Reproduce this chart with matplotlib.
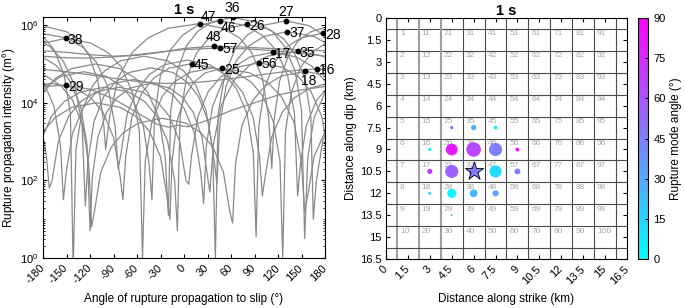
import matplotlib.pyplot as plt
from matplotlib.ticker import FixedLocator, LogLocator, NullFormatter

plt.rcParams['font.family'] = ['Liberation Sans', 'DejaVu Sans']
plt.rcParams['mathtext.fontset'] = 'custom'
plt.rcParams['mathtext.rm'] = 'Liberation Sans'

# left panel: intensity curves, (angle deg, log10 intensity)
curve_36 = [(-180, 4.26), (-164, 4.63), (-144, 4.88), (-113, 5.0), (-82, 4.88), (-62, 4.63), (-46, 4.26),
            (-32, 3.61), (-24, 2.6), (-20, 1.1), (-17, 3.8), (-9, 4.81), (3, 5.46), (17, 5.83), (35, 6.08),
            (62, 6.2), (92, 6.08), (113, 5.83), (128, 5.46), (142, 4.81), (150, 3.8), (154, 0.5), (158, 2.6),
            (166, 3.61), (180, 4.26)]
curve_26 = [(-180, 3.15), (-169, 3.66), (-153, 4.03), (-132, 4.28), (-102, 4.4), (-71, 4.28), (-50, 4.03),
            (-35, 3.66), (-21, 3.01), (-12, 2.0), (-8.5, 0.7), (-5, 3.62), (3, 4.63), (16, 5.28), (31, 5.65),
            (51, 5.9), (80, 6.02), (108, 5.9), (127, 5.65), (141, 5.28), (154, 4.63), (162, 3.62), (165, 1.0),
            (169, 2.0), (177, 3.01), (180, 3.15)]
curve_46 = [(-180, 4.32), (-176, 4.43), (-157, 4.68), (-128, 4.8), (-99, 4.68), (-80, 4.43), (-65, 4.06),
            (-52, 3.41), (-44.5, 2.4), (-41, 1.5), (-37.5, 3.71), (-30, 4.72), (-17, 5.37), (-2, 5.74),
            (17, 5.99), (46, 6.11), (79, 5.99), (100, 5.74), (117, 5.37), (132, 4.72), (141, 3.71), (145, 1.6),
            (148.5, 2.4), (156, 3.41), (169, 4.06), (180, 4.32)]
curve_47 = [(-180, 5.94), (-174, 5.95), (-150, 5.83), (-133, 5.58), (-121, 5.21), (-110, 4.56), (-103, 3.55),
            (-100, 2.8), (-95, 3.64), (-84, 4.65), (-66, 5.3), (-46, 5.67), (-20, 5.92), (20, 6.04), (50, 5.92),
            (71, 5.67), (86, 5.3), (100, 4.65), (108, 3.64), (112, 2.3), (115, 3.55), (122, 4.56), (133, 5.21),
            (145, 5.58), (162, 5.83), (180, 5.94)]
curve_27 = [(-180, 5.71), (-166, 5.37), (-153, 4.72), (-145, 3.71), (-141.5, -0.3), (-138, 2.8), (-130, 3.81),
            (-116, 4.46), (-101, 4.83), (-81, 5.08), (-51, 5.2), (-21, 5.08), (-1, 4.83), (15, 4.46),
            (28, 3.81), (36.5, 2.8), (40, 0.0), (43.5, 3.71), (52, 4.72), (65, 5.37), (80.5, 5.74), (100, 5.99),
            (130, 6.11), (159, 5.99), (179, 5.74), (180, 5.71)]
curve_38 = [(-180, 5.52), (-178, 5.54), (-151, 5.66), (-119, 5.54), (-97, 5.29), (-80, 4.92), (-66, 4.27),
            (-57, 3.26), (-53, 0.0), (-49.5, 2.5), (-41, 3.51), (-28, 4.16), (-13, 4.53), (7, 4.78), (36.5, 4.9),
            (66, 4.78), (86, 4.53), (101, 4.16), (114, 3.51), (122.5, 2.5), (126, 0.0), (129.5, 3.26),
            (137, 4.27), (149, 4.92), (163, 5.29), (180, 5.52)]
curve_28 = [(-180, 5.78), (-150, 5.67), (-128.5, 5.42), (-112, 5.05), (-97, 4.4), (-88, 3.39), (-84, 2.3),
            (-80.5, 2.7), (-72.6, 3.71), (-59, 4.36), (-44, 4.73), (-25, 4.98), (4, 5.1), (33, 4.98), (52, 4.73),
            (67, 4.36), (80.6, 3.71), (88.5, 2.7), (92, 0.55), (95.4, 3.39), (103, 4.4), (116, 5.05),
            (130, 5.42), (149, 5.67), (177, 5.79), (180, 5.78)]
curve_35 = [(-180, 5.17), (-163, 4.96), (-146.6, 4.59), (-132.4, 3.94), (-123.8, 2.93), (-120, 0.7), (-117, 2.1),
            (-110, 3.11), (-98.6, 3.76), (-85.6, 4.13), (-68.7, 4.38), (-43.5, 4.5), (-18.3, 4.38),
            (-1.4, 4.13), (11.6, 3.76), (23, 3.11), (30, 2.1), (33, 1.7), (37.5, 2.93), (47.6, 3.94),
            (64.4, 4.59), (83.4, 4.96), (108, 5.21), (145, 5.33), (176.4, 5.21), (180, 5.17)]
curve_45 = [(-180, 4.48), (-169, 4.5), (-139, 4.38), (-119, 4.13), (-103.5, 3.76), (-90, 3.11), (-81.6, 2.1),
            (-78, 1.5), (-74.5, 2.61), (-66.6, 3.62), (-53.4, 4.27), (-38.4, 4.64), (-19, 4.89), (10, 5.01),
            (39.7, 4.89), (59.5, 4.64), (74.8, 4.27), (88.3, 3.62), (96.4, 2.61), (100, 1.6), (103.6, 2.1),
            (111.8, 3.11), (125.5, 3.76), (141, 4.13), (161, 4.38), (180, 4.48)]
curve_56 = [(-180, 3.15), (-175.7, 2.63), (-172, 1.8), (-168.4, 2.0), (-160.4, 3.01), (-147, 3.66),
            (-132, 4.03), (-112.4, 4.28), (-83, 4.4), (-53.6, 4.28), (-34, 4.03), (-19, 3.66), (-5.6, 3.01),
            (2.4, 2.0), (6, 1.9), (9.6, 2.63), (17.7, 3.64), (31, 4.29), (46.5, 4.66), (66, 4.91), (96, 5.03),
            (126, 4.91), (146.6, 4.66), (162, 4.29), (176, 3.64), (180, 3.15)]
curve_25 = [(-180, 3.26), (-164, 3.63), (-143, 3.88), (-112, 4.0), (-81, 3.88), (-60, 3.63), (-44, 3.26),
            (-30, 2.61), (-21.8, 1.6), (-18, 1.0), (-15.3, 2.49), (-9.3, 3.5), (0.8, 4.15), (12, 4.52),
            (27, 4.77), (49, 4.89), (84, 4.77), (107, 4.52), (124.6, 4.15), (140.4, 3.5), (149.8, 2.49),
            (154, 1.2), (157.8, 1.6), (166, 2.61), (180, 3.26)]
curve_17 = [(-180, 4.56), (-166, 3.91), (-157.7, 2.9), (-154, 1.5), (-150.4, 2.2), (-142.4, 3.21), (-129, 3.86),
            (-113.7, 4.23), (-94, 4.48), (-64.5, 4.6), (-35, 4.48), (-15.3, 4.23), (0, 3.86), (13.4, 3.21),
            (21.4, 2.2), (25, 1.4), (28.5, 2.9), (36.4, 3.91), (49.6, 4.56), (64.6, 4.93), (84, 5.18),
            (113, 5.3), (143.7, 5.18), (164, 4.93), (180, 4.56)]
curve_37 = [(-180, 5.55), (-172, 5.46), (-154.6, 5.09), (-139.3, 4.44), (-130.1, 3.43), (-126, 1.34),
            (-122.6, 2.5), (-115, 3.51), (-102.5, 4.16), (-88, 4.53), (-70, 4.78), (-42, 4.9), (-14.3, 4.78),
            (4.2, 4.53), (18.5, 4.16), (31, 3.51), (38.6, 2.5), (42, 1.9), (45.6, 3.43), (53.7, 4.44),
            (67, 5.09), (82.5, 5.46), (102, 5.71), (132, 5.83), (165.7, 5.71), (180, 5.55)]
curve_18 = [(-180, 4.71), (-176.3, 4.69), (-157, 4.44), (-142.4, 4.07), (-129.3, 3.42), (-121.5, 2.41),
            (-118, 0.8), (-114.4, 1.2), (-106.3, 2.21), (-92.8, 2.86), (-77.5, 3.23), (-57.7, 3.48),
            (-28, 3.6), (1.7, 3.48), (21.5, 3.23), (36.8, 2.86), (50.3, 2.21), (58.4, 1.2), (62, 0.9),
            (65.7, 2.41), (74, 3.42), (88, 4.07), (104, 4.44), (124.3, 4.69), (155, 4.81), (180, 4.71)]
curve_16 = [(-180, 4.86), (-150, 4.8), (-120, 4.72), (-90, 4.63), (-60, 4.55), (-30, 4.5), (0, 4.5),
            (30, 4.55), (60, 4.62), (90, 4.7), (120, 4.78), (150, 4.85), (170, 4.87), (180, 4.86)]
curve_57 = [(-180, 5.2), (-150, 5.16), (-120, 5.15), (-90, 5.18), (-60, 5.24), (-30, 5.31), (0, 5.37),
            (46, 5.41), (80, 5.39), (110, 5.35), (140, 5.29), (180, 5.2)]
curve_48 = [(-180, 5.34), (-150, 5.3), (-120, 5.24), (-90, 5.2), (-60, 5.22), (-30, 5.3), (0, 5.4),
            (38, 5.46), (70, 5.44), (100, 5.41), (140, 5.37), (180, 5.34)]
curve_29 = [(-180, 4.42), (-151, 4.45), (-120, 4.35), (-90, 4.1), (-60, 3.75), (-35, 3.45), (-20, 3.37),
            (-8, 3.42), (5, 3.38), (30, 3.55), (60, 3.8), (90, 4.0), (120, 4.2), (150, 4.33), (180, 4.42)]

curves = [curve_36, curve_26, curve_46, curve_47, curve_27, curve_38, curve_28, curve_35, curve_45,
          curve_56, curve_25, curve_17, curve_37, curve_18, curve_16, curve_57, curve_48, curve_29]

# subfaults with a maximum marked: cell number, angle of max, log10 max intensity, rupture mode angle
cells = [16, 17, 18, 25, 26, 27, 28, 29, 35, 36, 37, 38, 45, 46, 47, 48, 56, 57]
peak_angle = [170, 113, 155, 49, 80, 130, 177, -151, 145, 62, 132, -151, 10, 46, 20, 38, 96, 46]
peak_log = [4.87, 5.30, 4.81, 4.89, 6.02, 6.11, 5.79, 4.45, 5.33, 6.20, 5.83, 5.66, 5.01, 6.11, 6.04,
            5.46, 5.03, 5.41]
mode_angle = [5, 68, 20, 53, 80, 55, 4, 25, 28, 65, 46, 25, 8, 45, 13, 32, 88, 45]
hypo_cell = 37

x_ticks = [-180, -150, -120, -90, -60, -30, 0, 30, 60, 90, 120, 150, 180]
km_ticks = [0, 1.5, 3, 4.5, 6, 7.5, 9, 10.5, 12, 13.5, 15, 16.5]
cbar_ticks = [0, 15, 30, 45, 60, 75, 90]

# label placement for the peak numbers (offset in points, ha, va)
label_pos = {47: (1, 5, 'left', 'center'), 36: (0, 1.5, 'center', 'bottom'),
             46: (0.5, -5, 'left', 'center'), 27: (0.5, 1.5, 'center', 'bottom'),
             48: (0, 1.5, 'center', 'bottom'), 18: (2, -2, 'center', 'top')}

fig = plt.figure(figsize=(6.85, 3.08), dpi=100)

# ---- left panel
ax1 = fig.add_axes([0.0628, 0.1623, 0.4117, 0.7825])
for pts in curves:
    ax1.plot([p[0] for p in pts], [10 ** p[1] for p in pts], color='#8a8a8a', lw=0.9, zorder=1)
ax1.plot(peak_angle, [10 ** v for v in peak_log], 'o', color='k', ms=3.2, zorder=3)
for c, a, v in zip(cells, peak_angle, peak_log):
    dx, dy, ha, va = label_pos.get(c, (1.5, -1, 'left', 'center'))
    ax1.annotate(str(c), (a, 10 ** v), xytext=(dx, dy), textcoords='offset points',
                 ha=ha, va=va, fontsize=10, zorder=4, annotation_clip=False)
ax1.set_yscale('log')
ax1.set_xlim(-180, 180)
ax1.set_ylim(1, 10 ** 6.21)
ax1.set_xticks(x_ticks)
ax1.set_xticklabels([str(t) for t in x_ticks], rotation=45, ha='right', va='center',
                    rotation_mode='anchor')
ax1.yaxis.set_major_locator(FixedLocator([1, 1e2, 1e4, 1e6]))
ax1.yaxis.set_minor_locator(LogLocator(base=10, subs=range(1, 10), numticks=20))
ax1.yaxis.set_minor_formatter(NullFormatter())
ax1.tick_params(direction='in', top=True, right=True, labelsize=8, length=3, pad=3)
ax1.tick_params(axis='x', pad=6)
ax1.tick_params(which='minor', direction='in', right=True, length=1.5)
ax1.set_xlabel('Angle of rupture propagation to slip (°)', fontsize=8.5, labelpad=5)
ax1.set_ylabel('Rupture propagation intensity (m$^6$)', fontsize=8.5, labelpad=2)
ax1.set_title('1 s', fontsize=10.5, fontweight='bold', pad=2)

# ---- right panel
ax2 = fig.add_axes([0.5635, 0.159, 0.3518, 0.7825])
ax2.set_xlim(0, 16.5)
ax2.set_ylim(16.5, 0)
for k in range(11):
    edge = 0.75 + 1.5 * k
    if k < 3:
        ax2.axvline(edge, color='#a0a0a0', lw=1.5, zorder=1)
    else:
        ax2.axvline(edge, color='#4a4a4a', lw=0.8, zorder=1)
    ax2.axhline(edge, color='#4a4a4a', lw=0.8, zorder=1)
for j in range(10):
    for i in range(10):
        ax2.text(1.5 * j + 0.95, 1.5 * i + 0.85, str(10 * j + i + 1), fontsize=6,
                 color='#a8a8a8', ha='left', va='top', zorder=2)

bx = [1.5 * ((c - 1) // 10 + 1) for c in cells]
by = [1.5 * ((c - 1) % 10 + 1) for c in cells]
sizes = [110 * 10 ** (v - 6.2) for v in peak_log]
sc = ax2.scatter(bx, by, s=sizes, c=mode_angle, cmap='cool', vmin=0, vmax=90,
                 edgecolors='none', zorder=3)
h = cells.index(hypo_cell)
ax2.scatter([bx[h]], [by[h]], s=190, marker='*', c=[mode_angle[h]], cmap='cool', vmin=0, vmax=90,
            edgecolors='k', linewidths=0.6, zorder=4)
ax2.set_xticks(km_ticks)
ax2.set_yticks(km_ticks)
ax2.set_xticklabels(['%g' % t for t in km_ticks], rotation=45, ha='right', va='center',
                    rotation_mode='anchor')
ax2.set_yticklabels(['%g' % t for t in km_ticks])
ax2.tick_params(direction='in', top=True, right=True, labelsize=8, length=3, pad=3)
ax2.tick_params(axis='x', pad=6)
ax2.set_xlabel('Distance along strike (km)', fontsize=8.5, labelpad=5)
ax2.set_ylabel('Distance along dip (km)', fontsize=8.5, labelpad=2)
ax2.set_title('1 s', fontsize=10.5, fontweight='bold', pad=2)

cax = fig.add_axes([0.9314, 0.159, 0.0153, 0.7825])
cb = fig.colorbar(sc, cax=cax, ticks=cbar_ticks)
cb.ax.tick_params(direction='in', labelsize=8, length=2.5)
cb.set_label('Rupture mode angle (°)', fontsize=8.5, labelpad=3)

fig.savefig('out.png', dpi=100)
